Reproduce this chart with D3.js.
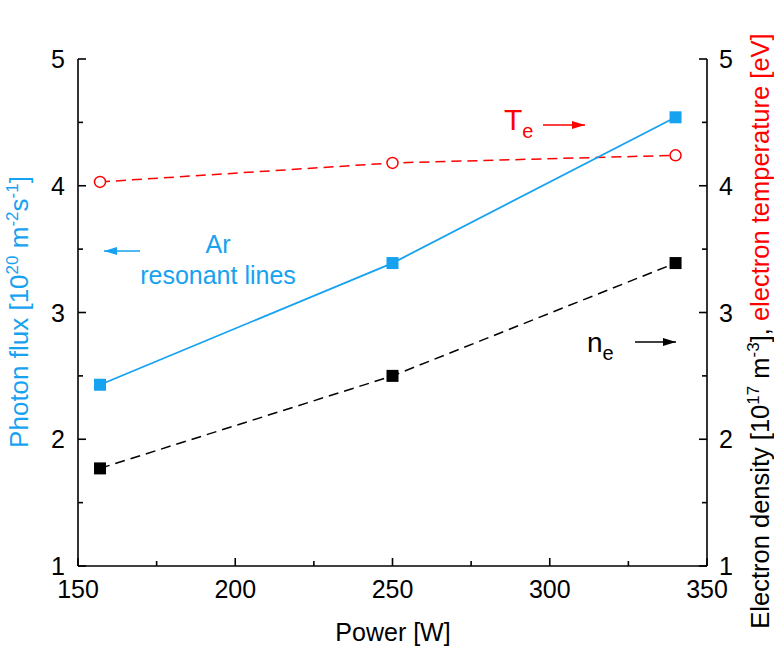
<!DOCTYPE html>
<html>
<head>
<meta charset="utf-8">
<script src="https://cdn.jsdelivr.net/npm/d3@7"></script>
<style>
  body { margin: 0; background: #fff; }
  text { font-family: "Liberation Sans", Arial, sans-serif; }
</style>
</head>
<body>
<div id="chart"></div>
<script>
// data
var power = [157, 250, 340];
var photonFlux = [2.43, 3.39, 4.54];     // Ar resonant lines, left axis
var electronDensity = [1.77, 2.50, 3.39]; // n_e, right axis
var electronTemp = [4.03, 4.18, 4.24];    // T_e, right axis
var xTicks = [150, 200, 250, 300, 350];
var yTicks = [1, 2, 3, 4, 5];

var BLUE = "#16a2f0";
var RED = "#ff0000";

var width = 774, height = 651;
var margin = { top: 59, right: 67, bottom: 85, left: 78 };

var svg = d3.select('#chart')
    .append('svg')
    .attr('width', width)
    .attr('height', height);

var x = d3.scaleLinear().domain([150, 350]).range([margin.left, width - margin.right]);
var y = d3.scaleLinear().domain([1, 5]).range([height - margin.bottom, margin.top]);

var x0 = x(150), x1 = x(350), y0 = y(1), y1 = y(5);

// minor ticks
var xMinor = d3.range(175, 350, 50);
var yMinor = d3.range(1.5, 5, 1);

var axes = svg.append('g').attr('stroke', '#000').attr('stroke-width', 1.6);

// axis lines (no top line)
axes.append('line').attr('x1', x0).attr('x2', x1).attr('y1', y0).attr('y2', y0);
axes.append('line').attr('x1', x0).attr('x2', x0).attr('y1', y0).attr('y2', y1);
axes.append('line').attr('x1', x1).attr('x2', x1).attr('y1', y0).attr('y2', y1);

// bottom ticks, pointing in
xTicks.forEach(function (t) {
    axes.append('line').attr('x1', x(t)).attr('x2', x(t)).attr('y1', y0).attr('y2', y0 - 8);
});
xMinor.forEach(function (t) {
    axes.append('line').attr('x1', x(t)).attr('x2', x(t)).attr('y1', y0).attr('y2', y0 - 5);
});
// left + right ticks, pointing in
yTicks.forEach(function (t) {
    axes.append('line').attr('x1', x0).attr('x2', x0 + 8).attr('y1', y(t)).attr('y2', y(t));
    axes.append('line').attr('x1', x1).attr('x2', x1 - 8).attr('y1', y(t)).attr('y2', y(t));
});
yMinor.forEach(function (t) {
    axes.append('line').attr('x1', x0).attr('x2', x0 + 5).attr('y1', y(t)).attr('y2', y(t));
    axes.append('line').attr('x1', x1).attr('x2', x1 - 5).attr('y1', y(t)).attr('y2', y(t));
});

// tick labels
svg.selectAll('.xl').data(xTicks).enter().append('text')
    .attr('x', function (d) { return x(d); })
    .attr('y', y0 + 32)
    .attr('text-anchor', 'middle')
    .style('font-size', '25px')
    .text(function (d) { return d; });
svg.selectAll('.yl').data(yTicks).enter().append('text')
    .attr('x', x0 - 13)
    .attr('y', function (d) { return y(d) + 9; })
    .attr('text-anchor', 'end')
    .style('font-size', '25px')
    .text(function (d) { return d; });
svg.selectAll('.yr').data(yTicks).enter().append('text')
    .attr('x', x1 + 12)
    .attr('y', function (d) { return y(d) + 9; })
    .attr('text-anchor', 'start')
    .style('font-size', '25px')
    .text(function (d) { return d; });

// axis titles
svg.append('text')
    .attr('x', 393)
    .attr('y', 641)
    .attr('text-anchor', 'middle')
    .style('font-size', '25px')
    .text('Power [W]');

var lt = svg.append('text')
    .attr('transform', 'translate(28,312) rotate(-90)')
    .attr('text-anchor', 'middle')
    .style('font-size', '26px')
    .attr('fill', BLUE);
lt.append('tspan').text('Photon flux [10');
lt.append('tspan').attr('dy', -10).style('font-size', '17px').text('20');
lt.append('tspan').attr('dy', 10).text(' m');
lt.append('tspan').attr('dy', -10).style('font-size', '17px').text('-2');
lt.append('tspan').attr('dy', 10).text('s');
lt.append('tspan').attr('dy', -10).style('font-size', '17px').text('-1');
lt.append('tspan').attr('dy', 10).text(']');

var rt = svg.append('text')
    .attr('transform', 'translate(769,331) rotate(-90)')
    .attr('text-anchor', 'middle')
    .style('font-size', '25.5px');
rt.append('tspan').text('Electron density [10');
rt.append('tspan').attr('dy', -10).style('font-size', '17px').text('17');
rt.append('tspan').attr('dy', 10).text(' m');
rt.append('tspan').attr('dy', -10).style('font-size', '17px').text('-3');
rt.append('tspan').attr('dy', 10).text('], ');
rt.append('tspan').attr('fill', RED).text('electron temperature [eV]');

// series
var line = d3.line()
    .x(function (d) { return x(d[0]); })
    .y(function (d) { return y(d[1]); });

var blueData = d3.zip(power, photonFlux);
var blackData = d3.zip(power, electronDensity);
var redData = d3.zip(power, electronTemp);

svg.append('path').datum(redData).attr('d', line)
    .attr('fill', 'none').attr('stroke', RED).attr('stroke-width', 1.5)
    .attr('stroke-dasharray', '10,6');
svg.append('path').datum(blackData).attr('d', line)
    .attr('fill', 'none').attr('stroke', '#000').attr('stroke-width', 1.5)
    .attr('stroke-dasharray', '10,6');
svg.append('path').datum(blueData).attr('d', line)
    .attr('fill', 'none').attr('stroke', BLUE).attr('stroke-width', 1.8);

var sq = 12;
svg.selectAll('.bsq').data(blueData).enter().append('rect')
    .attr('x', function (d) { return x(d[0]) - sq / 2; })
    .attr('y', function (d) { return y(d[1]) - sq / 2; })
    .attr('width', sq).attr('height', sq)
    .attr('fill', BLUE);
svg.selectAll('.ksq').data(blackData).enter().append('rect')
    .attr('x', function (d) { return x(d[0]) - sq / 2; })
    .attr('y', function (d) { return y(d[1]) - sq / 2; })
    .attr('width', sq).attr('height', sq)
    .attr('fill', '#000');
svg.selectAll('.rc').data(redData).enter().append('circle')
    .attr('cx', function (d) { return x(d[0]); })
    .attr('cy', function (d) { return y(d[1]); })
    .attr('r', 5.5)
    .attr('fill', '#fff').attr('stroke', RED).attr('stroke-width', 1.5);

// arrows
function arrow(xa, xb, yy, col) {
    svg.append('line').attr('x1', xa).attr('x2', xb).attr('y1', yy).attr('y2', yy)
        .attr('stroke', col).attr('stroke-width', 1.4);
    var dir = xb > xa ? 1 : -1;
    svg.append('path')
        .attr('d', 'M' + xb + ',' + yy + 'L' + (xb - dir * 13) + ',' + (yy - 4) + 'L' + (xb - dir * 13) + ',' + (yy + 4) + 'Z')
        .attr('fill', col);
}

// annotations
svg.append('text').attr('x', 218).attr('y', 253).attr('text-anchor', 'middle')
    .style('font-size', '25px').attr('fill', BLUE).text('Ar');
svg.append('text').attr('x', 218).attr('y', 284).attr('text-anchor', 'middle')
    .style('font-size', '25px').attr('fill', BLUE).text('resonant lines');
arrow(140, 104, 251, BLUE);

var te = svg.append('text').attr('x', 504).attr('y', 130)
    .style('font-size', '30px').attr('fill', RED);
te.append('tspan').text('T');
te.append('tspan').attr('dy', 8).style('font-size', '20px').text('e');
arrow(543, 585, 125, RED);

var ne = svg.append('text').attr('x', 587).attr('y', 352)
    .style('font-size', '28px').attr('fill', '#000');
ne.append('tspan').text('n');
ne.append('tspan').attr('dy', 8).style('font-size', '20px').text('e');
arrow(635, 676, 342, '#000');
</script>
</body>
</html>
